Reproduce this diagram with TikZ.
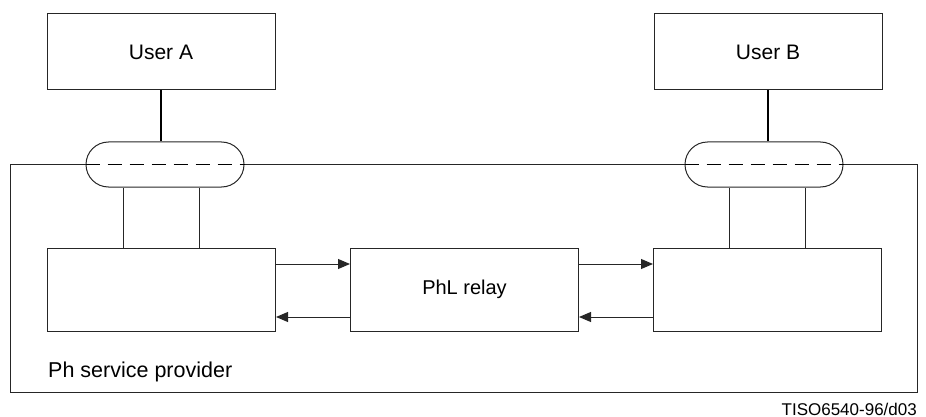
\documentclass[tikz,border=0pt]{standalone}
\usepackage{fontspec}
\setmainfont{Liberation Sans}
\usetikzlibrary{arrows.meta}
\begin{document}
\begin{tikzpicture}[x=1pt,y=-1pt,
  box/.style={draw=black!85,line width=1pt,inner sep=0pt,minimum width=228pt,minimum height=#1},
  box/.default=76pt,
  pill/.style={draw=black!85,line width=1pt,rounded corners=22.5pt,inner sep=0pt,minimum width=158pt,minimum height=45pt},
  thin/.style={draw=black!85,line width=1pt},
  link/.style={draw=black,line width=1.5pt},
  dashln/.style={draw=black,line width=1.8pt,dash pattern=on 14pt off 8pt},
  arr/.style={draw=black!85,line width=1pt,-{Triangle[length=12pt,width=10pt]}},
  lbl/.style={font=\fontsize{21}{24}\selectfont}
]
\useasboundingbox (0,0) rectangle (926,417);
% users
\node[box,lbl] (userA) at (161,52) {User A};
\node[box,lbl] (userB) at (768,52) {User B};
% pills
\node[pill] (pillA) at (165,164.5) {};
\node[pill] (pillB) at (764,164.5) {};
% lower boxes
\node[box=83pt] (boxL) at (161.5,289.5) {};
\node[box=83pt,font=\fontsize{20}{24}\selectfont] (relay) at (464.5,289.5) {PhL relay};
\node[box=83pt] (boxR) at (767.5,289.5) {};
% outer frame
\coordinate (tl) at (10,164.5);
\coordinate (bl) at (10,392);
\coordinate (br) at (917,392);
\coordinate (tr) at (917,164.5);
\draw[thin] (pillA.west) -- (tl) -- (bl) -- (br) -- (tr) -- (pillB.east);
\draw[thin] (pillA.east) -- (pillB.west);
% dashed lines in pills
\draw[dashln] (pillA.west) -- (pillA.east);
\draw[dashln] (pillB.west) -- (pillB.east);
% user links
\draw[link] (userA.south) -- (userA.south |- pillA.north);
\draw[link] (userB.south) -- (userB.south |- pillB.north);
% vertical links
\draw[thin] ([xshift=-38pt]boxL.north) -- ([xshift=-38pt]boxL.north |- pillA.south);
\draw[thin] ([xshift=38pt]boxL.north) -- ([xshift=38pt]boxL.north |- pillA.south);
\draw[thin] ([xshift=-38pt]boxR.north) -- ([xshift=-38pt]boxR.north |- pillB.south);
\draw[thin] ([xshift=38pt]boxR.north) -- ([xshift=38pt]boxR.north |- pillB.south);
% arrows
\draw[arr] ([yshift=25.5pt]boxL.east) -- ([yshift=25.5pt]relay.west);
\draw[arr] ([yshift=-27.5pt]relay.west) -- ([yshift=-27.5pt]boxL.east);
\draw[arr] ([yshift=25.5pt]relay.east) -- ([yshift=25.5pt]boxR.west);
\draw[arr] ([yshift=-27.5pt]boxR.west) -- ([yshift=-27.5pt]relay.east);
% labels
\node[anchor=base west,inner sep=0pt,font=\fontsize{21.5}{24}\selectfont] (prov) at (48,377) {Ph service provider};
\node[anchor=base east,inner sep=0pt,font=\fontsize{17}{20}\selectfont] (tiso) at (917,415) {TISO6540-96/d03};
\end{tikzpicture}
\end{document}
